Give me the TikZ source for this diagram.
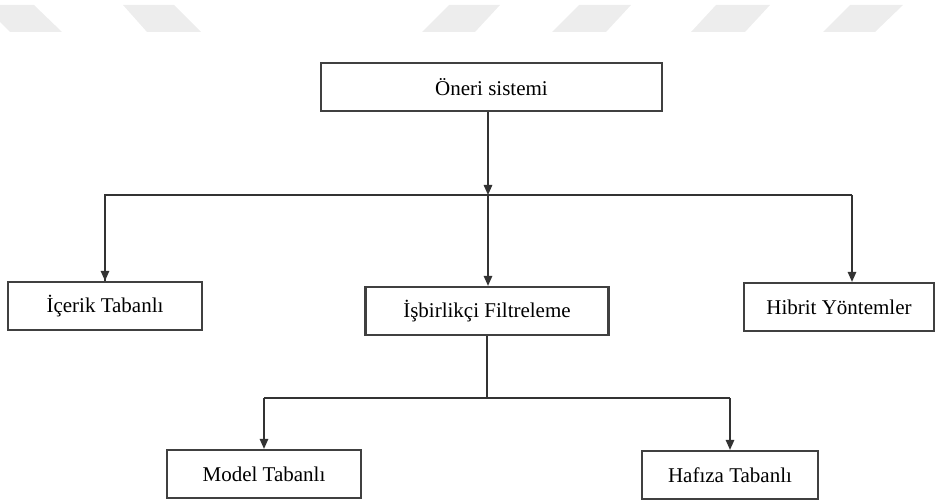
\documentclass[tikz,border=0pt]{standalone}
\usepackage{fontspec}
\setmainfont{Liberation Serif}
\usetikzlibrary{arrows.meta,positioning}

\begin{document}
\begin{tikzpicture}[x=0.5pt,y=-0.5pt,>={Triangle[length=5pt,width=4.2pt]},
box/.style={draw=black!75,line width=1.1pt,align=center,inner sep=0pt,minimum height=24pt,font=\fontsize{10.5}{12}\selectfont},
link/.style={draw=black!80,line width=0.8pt},
band/.style={fill=black!7}]
\useasboundingbox (0,0) rectangle (935,502);
% faint watermark bands
\begin{scope}
\clip (0,0) rectangle (935,502);
\fill[band] (-17,5)--(34,5)--(62,32)--(10,32)--cycle;
\fill[band] (123,5)--(174,5)--(201,32)--(147,32)--cycle;
\fill[band] (449,5)--(500,5)--(475,32)--(422,32)--cycle;
\fill[band] (579,5)--(631,5)--(606,32)--(552,32)--cycle;
\fill[band] (716,5)--(770,5)--(745,32)--(691,32)--cycle;
\fill[band] (850,5)--(903,5)--(875,32)--(823,32)--cycle;
\end{scope}
\node[box,minimum width=170.5pt] (oneri) at (491.5,87) {Öneri sistemi};
\node[box,minimum width=97pt] (icerik) at (105,306) {İçerik Tabanlı};
\node[box,minimum width=121.5pt] (isbirlikci) at (487,311) {İşbirlikçi Filtreleme};
\node[box,minimum width=95pt] (hibrit) at (839,307) {Hibrit Yöntemler};
\node[box,minimum width=97pt] (model) at (264,474) {Model Tabanlı};
\node[box,minimum width=88pt] (hafiza) at (730,475) {Hafıza Tabanlı};
\coordinate (split) at (488,195);
\coordinate (subsplit) at (487,398);
\coordinate (hibritin) at (852,0);
\draw[link,->] (oneri.south -| split)--(split);
\draw[link] (split)-|(icerik.north);
\draw[link,->] (icerik.north |- split)--(icerik.north);
\draw[link,->] (split)--(isbirlikci.north -| split);
\draw[link] (split)--(split -| hibritin);
\draw[link,->] (split -| hibritin)--(hibrit.north -| hibritin);
\draw[link] (isbirlikci.south)--(subsplit);
\draw[link] (subsplit -| model.north)--(subsplit -| hafiza.north);
\draw[link,->] (subsplit -| model.north)--(model.north);
\draw[link,->] (subsplit -| hafiza.north)--(hafiza.north);
\end{tikzpicture}
\end{document}
